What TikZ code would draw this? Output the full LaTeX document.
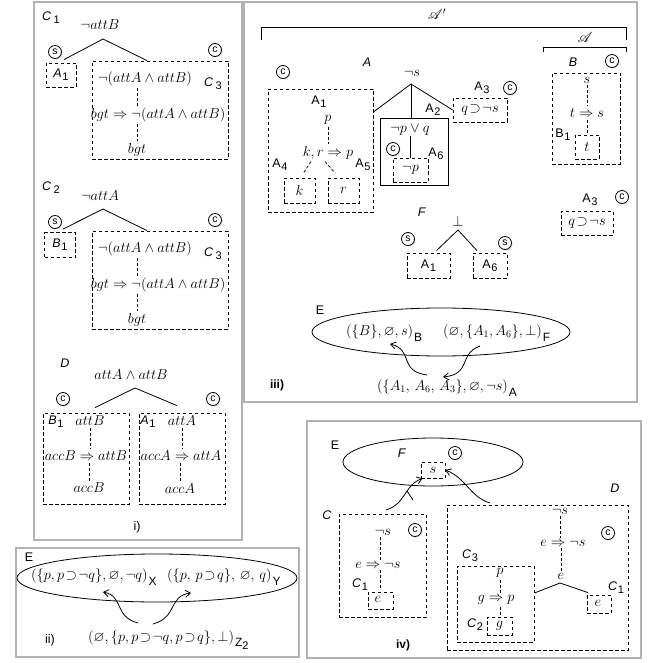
\documentclass[tikz,border=0pt]{standalone}
\usepackage{amssymb}
\usepackage{mathrsfs}
\usepackage{fontspec}
\setsansfont{Liberation Sans}
\usetikzlibrary{shadows,arrows.meta,calc}
\newcommand{\nm}[2]{#1\kern0.6pt\raisebox{-0.45ex}{\fontsize{11}{11}\selectfont #2}}
\newcommand{\sx}[1]{\kern1pt\raisebox{-0.9ex}{\sffamily\fontsize{12}{12}\selectfont #1}}
\newcommand{\spp}{\mathrel{\!\supset\!}}
\tikzset{
 frame/.style={draw=black!30, line width=1.3pt},
 fm/.style={inner sep=0pt, font=\fontsize{14}{16}\selectfont},
 fs/.style={inner sep=0pt, font=\fontsize{14}{16}\selectfont},
 lb/.style={inner sep=0pt, font=\fontsize{12.5}{14}\selectfont\sffamily},
 mk/.style={circle, draw, line width=0.8pt, inner sep=0pt, minimum size=13pt,
   font=\fontsize{10.5}{10.5}\selectfont\sffamily, fill=white,
   drop shadow={opacity=0.3, shadow xshift=1pt, shadow yshift=-1pt}},
 dbox/.style={draw, line width=0.8pt, dash pattern=on 3.5pt off 2.5pt, inner sep=0pt},
 sbox/.style={draw, line width=0.8pt, inner sep=0pt},
 dl/.style={line width=0.7pt, dash pattern=on 3pt off 2pt, shorten <=2pt, shorten >=2pt},
 sl/.style={line width=0.8pt},
 arr/.style={line width=0.8pt, -{Straight Barb[length=5pt,width=7pt]}},
}
\begin{document}
\begin{tikzpicture}[x=1pt,y=-1pt]
\useasboundingbox (0,0) rectangle (650,663);
% ---------- frames ----------
\draw[frame] (34,2) rectangle (242,540);
\draw[frame] (16,548) rectangle (299,657);
\draw[frame] (244,2) rectangle (637,402);
\draw[frame] (307,421) rectangle (641,658);

% ================= Panel i =================
% C1 block
\node[lb,anchor=west] (c1l) at (42,18) {\nm{\textit{C}}{\,1}};
\node[fm] (r1) at (100,25) {$\neg attB$};
\node[dbox,minimum width=30,minimum height=24] (a1b) at (61,75) {};
\node[lb] (a1t) at (a1b) {\nm{\textit{A}}{1}};
\node[dbox,minimum width=136,minimum height=98] (c3a) at (160,110) {};
\node[mk] (s1) at (55,52) {s};
\node[mk] (k1) at (215,50) {c};
\coordinate (p1) at (103,39);
\draw[sl] (p1) -- ($(a1b.north)+(3,-3)$);
\draw[sl] (p1) -- ($(c3a.north)+(-13,0)$);
\node[fm] (t1a) at (145,79) {$\neg(attA\wedge attB)$};
\node[lb] (c3l1) at (213,84) {\nm{\textit{C}}{\,3}};
\node[fm] (t1b) at (158,115) {$bgt\Rightarrow\neg(attA\wedge attB)$};
\node[fm] (t1c) at (137,150) {$bgt$};
\draw[dl] (t1a.south -| t1c.north) -- (t1b.north -| t1c.north);
\draw[dl] (t1b.south -| t1c.north) -- (t1c.north);

% C2 block
\node[lb,anchor=west] (c2l) at (42,188) {\nm{\textit{C}}{\,2}};
\node[fm] (r2) at (100,196) {$\neg attA$};
\node[dbox,minimum width=31,minimum height=25] (b1b) at (60,245) {};
\node[lb] (b1t) at (b1b) {\nm{\textit{B}}{1}};
\node[dbox,minimum width=136,minimum height=98] (c3b) at (160,280) {};
\node[mk] (s2) at (55,222) {s};
\node[mk] (k2) at (215,220) {c};
\coordinate (p2) at (103,209);
\draw[sl] (p2) -- ($(b1b.north)+(3,-3)$);
\draw[sl] (p2) -- ($(c3b.north)+(-13,0)$);
\node[fm] (t2a) at (145,249) {$\neg(attA\wedge attB)$};
\node[lb] (c3l2) at (213,254) {\nm{\textit{C}}{\,3}};
\node[fm] (t2b) at (158,285) {$bgt\Rightarrow\neg(attA\wedge attB)$};
\node[fm] (t2c) at (137,320) {$bgt$};
\draw[dl] (t2a.south -| t2c.north) -- (t2b.north -| t2c.north);
\draw[dl] (t2b.south -| t2c.north) -- (t2c.north);

% D block
\node[lb] (dl) at (65,363) {\textit{D}};
\node[fm] (r3) at (131,375) {$attA\wedge attB$};
\node[dbox,minimum width=86,minimum height=91] (b1c) at (86,458.5) {};
\node[dbox,minimum width=86,minimum height=91] (a1c) at (182,458.5) {};
\node[mk] (k3) at (63,399) {c};
\node[mk] (k4) at (213,399) {c};
\coordinate (p3) at (135,388);
\draw[sl] (p3) -- ($(b1c.north)+(9,-5)$);
\draw[sl] (p3) -- ($(a1c.north)+(-5,-7)$);
\node[lb] (b1l) at (56,422) {\nm{\textit{B}}{1}};
\node[fm] (u1) at (90,421) {$attB$};
\node[fm] (u2) at (86,456) {$accB\Rightarrow attB$};
\node[fm] (u3) at (89,488) {$accB$};
\draw[dl] (u1.south) -- (u2.north -| u1.south);
\draw[dl] (u2.south -| u3.north) -- (u3.north);
\node[lb] (a1l) at (148,422) {\nm{\textit{A}}{1}};
\node[fm] (v1) at (182,421) {$attA$};
\node[fm] (v2) at (181,456) {$accA\Rightarrow attA$};
\node[fm] (v3) at (180,489) {$accA$};
\draw[dl] (v1.south) -- (v2.north -| v1.south);
\draw[dl] (v2.south -| v3.north) -- (v3.north);
\node[lb] (il) at (137,527) {i)};

% ================= Panel ii =================
\node[lb] (e2) at (29,557) {E};
\draw[sl] (157,578) ellipse [x radius=140, y radius=24];
\node[fm,anchor=west] (xf) at (31,577) {$(\{p,p\spp\neg q\},\varnothing,\neg q)$\sx{X}};
\node[fm,anchor=west] (yf) at (167,577) {$(\{p,\,p\spp q\},\,\varnothing,\,q)$\sx{Y}};
\node[fm,anchor=west] (zf) at (88,640) {$(\varnothing,\{p,p\spp\neg q,p\spp q\},\bot)$\sx{Z\raisebox{-0.4ex}{\fontsize{11}{11}\selectfont 2}}};
\node[lb] (ii) at (50,640) {ii)};
\coordinate (z2a) at (138,623);
\coordinate (z2b) at (153,624);
\coordinate (xh) at (103,592);
\coordinate (yh) at (191,593);
\draw[arr] (z2a) .. controls (114,617) and (124,596) .. (xh);
\draw[arr] (z2b) .. controls (178,617) and (168,596) .. (yh);

% ================= Panel iii =================
\draw[sl] (261,40) -- (261,27) -- (626,27) -- (626,40);
\node[fm] (apl) at (437,14) {$\mathscr{A}'$};
\draw[sl] (543,52) -- (543,47) -- (626,47) -- (626,52);
\node[fm] (al) at (585,37) {$\mathscr{A}$};
% argument A
\node[lb] (Al) at (367,62) {\textit{A}};
\node[mk] (k5) at (283,72) {c};
\node[fm] (ns) at (412,73) {$\neg s$};
\coordinate (p4) at (411,84);
\node[dbox,minimum width=105,minimum height=123] (A1b) at (320.5,150.5) {};
\node[sbox,minimum width=68,minimum height=67] (A2b) at (414,151.5) {};
\node[dbox,minimum width=54,minimum height=24] (A3b) at (480,110) {};
\draw[sl] (p4) -- (A1b.east |- 0,112);
\draw[sl] (p4) -- (A2b.north -| p4);
\draw[sl] (p4) -- (A3b.west);
\node[lb] (A1l) at (319,102) {\nm{A}{1}};
\node[fm] (pp) at (328,120) {$p$};
\node[fm] (krp) at (328,153) {$k,r\Rightarrow p$};
\draw[dl] (pp.south) -- (krp.north -| pp.south);
\node[lb] (A4l) at (280,165) {\nm{A}{4}};
\node[lb] (A5l) at (363,165) {\nm{A}{5}};
\node[dbox,minimum width=31,minimum height=25] (kb) at (299.5,190.5) {};
\node[dbox,minimum width=31,minimum height=25] (rb) at (343.5,190.5) {};
\node[fm] (kt) at (kb) {$k$};
\node[fm] (rt) at (rb) {$r$};
\draw[dl,shorten <=0pt] ($(krp.south)+(-17,2)$) -- ($(kb.north)+(3,-3)$);
\draw[dl,shorten <=0pt] ($(krp.south)+(-3,2)$) -- ($(rb.north)+(-7,-3)$);
\node[lb] (A2l) at (433,110) {\nm{A}{2}};
\node[fm] (npq) at (410,130) {$\neg p\vee q$};
\node[dbox,minimum width=35,minimum height=24] (A6b) at (410.5,170) {};
\node[fm] (npt) at (A6b) {$\neg p$};
\draw[sl] (npq.south -| A6b.north) -- (A6b.north);
\node[lb] (A6l) at (436,154) {\nm{A}{6}};
\node[mk] (k6) at (393,149) {c};
\node[fm] (A3t) at (A3b) {$q\spp\neg s$};
\node[lb] (A3l) at (482,88) {\nm{A}{3}};
\node[mk] (k7) at (510,88) {c};
% argument B
\node[lb] (Bl) at (573,62) {\textit{B}};
\node[mk] (k8) at (612,61) {c};
\node[dbox,minimum width=68,minimum height=91] (Bb) at (586,118.5) {};
\node[fm] (bs) at (587,80) {$s$};
\node[fm] (bts) at (587,113) {$t\Rightarrow s$};
\node[dbox,minimum width=24,minimum height=24] (tb) at (587,147) {};
\node[fm] (bt) at (tb) {$t$};
\draw[dl] (bs.south) -- (bts.north -| bs.south);
\draw[dl] (bts.south -| tb.north) -- (tb.north);
\node[lb] (B1l) at (563,135) {\nm{B}{1}};
% A3 again
\node[lb] (A3l2) at (590,200) {\nm{A}{3}};
\node[mk] (k9) at (622,197) {c};
\node[dbox,minimum width=52,minimum height=24] (A3c) at (587,223) {};
\node[fm] (A3t2) at (A3c) {$q\spp\neg s$};
% argument F
\node[lb] (Fl) at (422,212) {\textit{F}};
\node[fm] (bot) at (458,221) {$\bot$};
\coordinate (p5) at (458,230);
\node[dbox,minimum width=43,minimum height=25] (FA1) at (428.5,265.5) {};
\node[dbox,minimum width=34,minimum height=25] (FA6) at (490,265.5) {};
\node[lb] (FA1t) at (FA1) {\nm{A}{1}};
\node[lb] (FA6t) at (FA6) {\nm{A}{6}};
\draw[sl] (p5) -- ($(FA1.north)+(8,-2)$);
\draw[sl] (p5) -- ($(FA6.north)+(-13,-2)$);
\node[mk] (s3) at (408,239) {s};
\node[mk] (s4) at (505,243) {s};
% E ellipse
\node[lb] (e3) at (320,310) {E};
\draw[sl] (441,332) ellipse [x radius=129, y radius=24];
\node[fs,anchor=west] (bf) at (346,333) {$(\{B\},\varnothing,s)$\sx{B}};
\node[fs,anchor=west] (ff) at (443,333) {$(\varnothing,\{A_1,A_6\},\bot)$\sx{F}};
\node[fs,anchor=west] (af) at (377,388) {$(\{A_1,\,A_6,\,A_3\},\varnothing,\neg s)$\sx{A}};
\node[lb,font=\fontsize{12}{14}\selectfont\sffamily\bfseries] (iii) at (277,385) {iii)};
\coordinate (a3s) at (427,375);
\coordinate (a3h) at (390,344);
\coordinate (f3s) at (480,346);
\coordinate (f3h) at (443,377);
\draw[arr] (a3s) .. controls (398,371) and (414,350) .. (a3h);
\draw[arr] (f3s) .. controls (458,354) and (472,374) .. (f3h);

% ================= Panel iv =================
\node[lb] (e4) at (335,445) {E};
\draw[sl] (433,462) ellipse [x radius=90, y radius=24];
\node[lb] (F4) at (402,453) {\textit{F}};
\node[mk] (k10) at (455,453) {c};
\node[dbox,minimum width=24,minimum height=16] (sb) at (433,470) {};
\node[fm] (st) at (sb) {$s$};
% C
\node[lb] (Cl) at (327,515) {\textit{C}};
\node[dbox,minimum width=87,minimum height=103] (Cb) at (382.5,565.5) {};
\node[fm] (cns) at (383,532) {$\neg s$};
\node[mk] (k11) at (415,530) {c};
\node[fm] (ces) at (378,565) {$e\Rightarrow\neg s$};
\node[dbox,minimum width=25,minimum height=17] (ceb) at (380.5,600.5) {};
\node[fm] (cet) at (378,599) {$e$};
\draw[dl] (cns.south -| ceb.north) -- (ces.north -| ceb.north);
\draw[dl] (ces.south -| ceb.north) -- (ceb.north);
\node[lb] (C1l) at (360,585) {\nm{\textit{C}}{1}};
% D
\node[lb] (Dl) at (615,488) {\textit{D}};
\node[dbox,minimum width=181,minimum height=145] (Db) at (537.5,577.5) {};
\node[fm] (dns) at (560,511) {$\neg s$};
\node[mk] (k12) at (608,533) {c};
\node[fm] (des) at (563,543) {$e\Rightarrow\neg s$};
\node[fm] (de) at (561,576) {$e$};
\draw[dl] (dns.south) -- (des.north -| dns.south);
\draw[dl] (des.south -| de.north) -- (de.north);
\coordinate (p6) at (560,583);
\node[dbox,minimum width=77,minimum height=76] (C3b) at (495.5,604) {};
\node[dbox,minimum width=24,minimum height=18] (deb) at (599,604) {};
\node[fm] (det) at (598,603) {$e$};
\draw[sl] (p6) -- (C3b.east |- 0,593);
\draw[sl] (p6) -- ($(deb.north)+(-11,-2)$);
\node[lb] (C1d) at (616,588) {\nm{\textit{C}}{1}};
\node[lb] (C3l) at (470,556) {\nm{\textit{C}}{3}};
\node[fm] (gp) at (500,573) {$p$};
\node[fm] (ggp) at (496,600) {$g\Rightarrow p$};
\node[dbox,minimum width=25,minimum height=18] (gb) at (499.5,626) {};
\node[fm] (gt) at (gb) {$g$};
\draw[dl] (gp.south) -- (ggp.north -| gp.south);
\draw[dl] (ggp.south -| gp.south) -- (gb.north -| gp.south);
\node[lb] (C2l) at (475,625) {\nm{\textit{C}}{2}};
\node[lb,font=\fontsize{12}{14}\selectfont\sffamily\bfseries] (iv) at (403,645) {iv)};
% arrows
\coordinate (cs) at (386,510);
\coordinate (dsx) at (490,503);
\draw[arr] (cs) .. controls (406,504) and (404,485) .. ($(sb.south west)+(2,0)$);
\draw[sl] (407,491) -- (413,500);
\draw[arr] (dsx) .. controls (470,497) and (466,478) .. (sb.east);
\end{tikzpicture}
\end{document}
